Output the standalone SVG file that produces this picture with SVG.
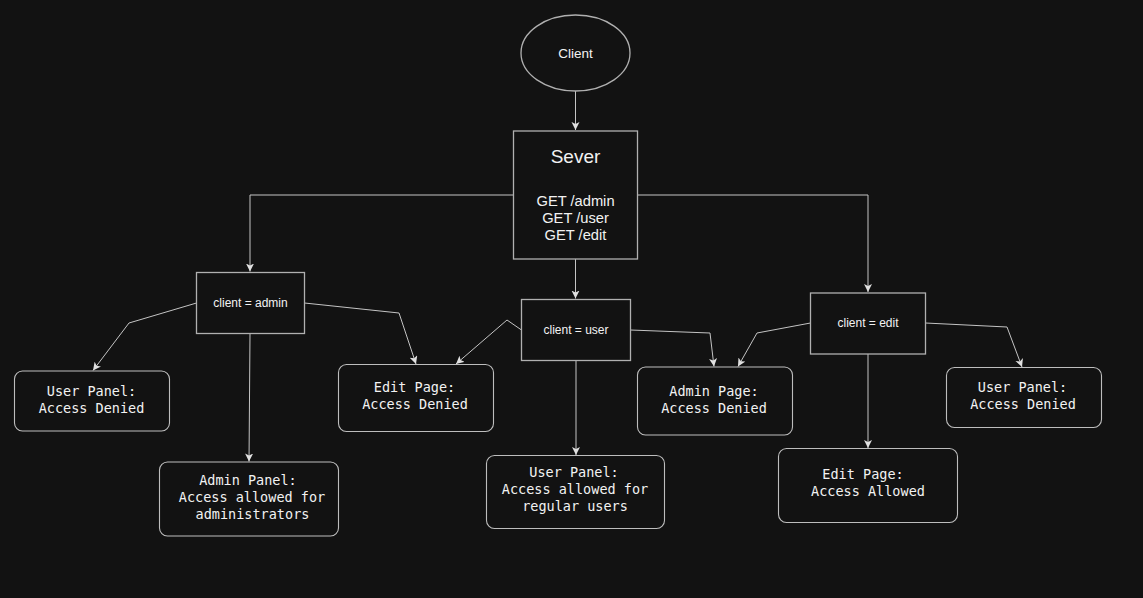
<svg xmlns="http://www.w3.org/2000/svg" width="1143" height="598" viewBox="0 0 1143 598">
<style>
.bg{fill:#121212}
.box{fill:#121212;stroke:#b0b0b0;stroke-width:1.3}
.leaf{fill:#121212;stroke:#bdbdbd;stroke-width:1.1}
.sans{font-family:"Liberation Sans",Arial,sans-serif;fill:#f2f2f2;text-anchor:middle}
.mono{font-family:"DejaVu Sans Mono","Liberation Mono",monospace;font-size:13.5px;fill:#f2f2f2;text-anchor:middle}
.edge{fill:none;stroke:#c4c4c4;stroke-width:1}
</style>
<defs>
<marker id="arr" markerUnits="userSpaceOnUse" markerWidth="9" markerHeight="9" refX="8" refY="4" orient="auto">
<path d="M0,0 L8,4 L0,8 L2,4 z" fill="#e0e0e0"/>
</marker>
</defs>
<rect class="bg" x="0" y="0" width="1143" height="598"/>
<g id="connectors">
<path class="edge" d="M575.5,91 V130" marker-end="url(#arr)"/>
<path class="edge" d="M513.5,195 H250 V271.5" marker-end="url(#arr)"/>
<path class="edge" d="M575.5,259 V298.5" marker-end="url(#arr)"/>
<path class="edge" d="M637.5,195 H868 V292" marker-end="url(#arr)"/>
<path class="edge" d="M196.5,303 L129,323 L93,370.5" marker-end="url(#arr)"/>
<path class="edge" d="M250,333.5 L249,461.5" marker-end="url(#arr)"/>
<path class="edge" d="M304.5,303 L399,313 L416,364" marker-end="url(#arr)"/>
<path class="edge" d="M521.5,330 L507,320 L456,364" marker-end="url(#arr)"/>
<path class="edge" d="M576,360.5 V455" marker-end="url(#arr)"/>
<path class="edge" d="M630.5,330 L710,333 L714,366.5" marker-end="url(#arr)"/>
<path class="edge" d="M810.5,323 L757,333 L738,366.5" marker-end="url(#arr)"/>
<path class="edge" d="M868,354 V448" marker-end="url(#arr)"/>
<path class="edge" d="M925.5,323 L1007,327 L1022,367" marker-end="url(#arr)"/>
</g>
<g id="client">
<ellipse class="box" cx="575.5" cy="53" rx="54.5" ry="38"/>
<text class="sans" x="575.5" y="58" font-size="13.5">Client</text>
</g>
<g id="server">
<rect class="box" x="513.5" y="131" width="124" height="128"/>
<text class="sans" x="575.5" y="163" font-size="19">Sever</text>
<text class="sans" x="575.5" y="206" font-size="14.7">GET /admin</text>
<text class="sans" x="575.5" y="223" font-size="14.7">GET /user</text>
<text class="sans" x="575.5" y="240" font-size="14.7">GET /edit</text>
</g>
<g id="check-admin">
<rect class="box" x="196.5" y="272.5" width="108" height="61"/>
<text class="sans" x="250.5" y="307" font-size="12">client = admin</text>
</g>
<g id="check-user">
<rect class="box" x="521.5" y="299.5" width="109" height="61"/>
<text class="sans" x="576" y="333.5" font-size="12">client = user</text>
</g>
<g id="check-edit">
<rect class="box" x="810.5" y="293" width="115" height="61"/>
<text class="sans" x="868" y="327" font-size="12">client = edit</text>
</g>
<g id="admin-userpanel">
<rect class="leaf" x="14.5" y="371" width="155" height="60" rx="8"/>
<text class="mono" x="91.5" y="396">User Panel:</text>
<text class="mono" x="91.5" y="413">Access Denied</text>
</g>
<g id="admin-adminpanel">
<rect class="leaf" x="159.5" y="462" width="179" height="74" rx="8"/>
<text class="mono" x="248" y="485">Admin Panel:</text>
<text class="mono" x="252" y="502">Access allowed for</text>
<text class="mono" x="252.5" y="519">administrators</text>
</g>
<g id="admin-editpage">
<rect class="leaf" x="338.5" y="364.5" width="155" height="67" rx="8"/>
<text class="mono" x="414.5" y="392">Edit Page:</text>
<text class="mono" x="415" y="409">Access Denied</text>
</g>
<g id="user-userpanel">
<rect class="leaf" x="486.5" y="455.5" width="178" height="73" rx="8"/>
<text class="mono" x="574" y="477">User Panel:</text>
<text class="mono" x="575" y="494">Access allowed for</text>
<text class="mono" x="575" y="511">regular users</text>
</g>
<g id="user-adminpage">
<rect class="leaf" x="637.5" y="367" width="155" height="68" rx="8"/>
<text class="mono" x="714" y="396">Admin Page:</text>
<text class="mono" x="714" y="413">Access Denied</text>
</g>
<g id="edit-editpage">
<rect class="leaf" x="778.5" y="448.5" width="179" height="74" rx="8"/>
<text class="mono" x="863" y="479">Edit Page:</text>
<text class="mono" x="868" y="496">Access Allowed</text>
</g>
<g id="edit-userpanel">
<rect class="leaf" x="946.5" y="367.5" width="155" height="60" rx="8"/>
<text class="mono" x="1022.5" y="392">User Panel:</text>
<text class="mono" x="1023" y="409">Access Denied</text>
</g>
</svg>
